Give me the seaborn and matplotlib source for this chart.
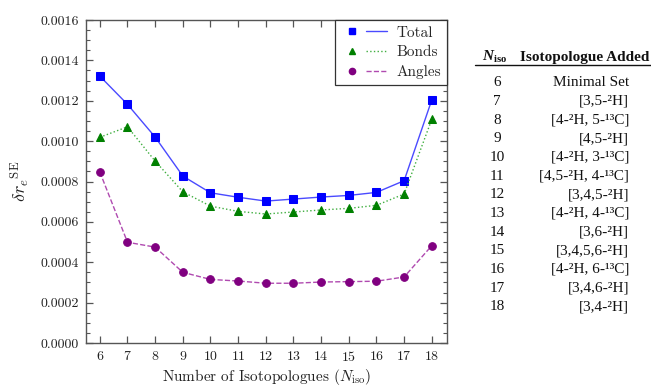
import numpy as np
import pandas as pd
import matplotlib
matplotlib.use("Agg")
import matplotlib.pyplot as plt
from matplotlib.lines import Line2D
from matplotlib.legend_handler import HandlerTuple
from matplotlib.ticker import MultipleLocator, FormatStrFormatter
import seaborn as sns

# data
n_iso = [6, 7, 8, 9, 10, 11, 12, 13, 14, 15, 16, 17, 18]
total = [0.001322, 0.001182, 0.001020, 0.000827, 0.000744, 0.000722, 0.000703,
         0.000713, 0.000723, 0.000731, 0.000746, 0.000804, 0.001204]
bonds = [0.001019, 0.001071, 0.000901, 0.000749, 0.000678, 0.000652, 0.000639,
         0.000649, 0.000659, 0.000667, 0.000682, 0.000738, 0.001108]
angles = [0.000847, 0.000499, 0.000475, 0.000350, 0.000315, 0.000307, 0.000296,
          0.000296, 0.000302, 0.000304, 0.000306, 0.000327, 0.000482]

# table on the right
table_n = [str(n) for n in n_iso]
table_added = ["Minimal Set", "[3,5-²H]", "[4-²H, 5-¹³C]", "[4,5-²H]",
               "[4-²H, 3-¹³C]", "[4,5-²H, 4-¹³C]", "[3,4,5-²H]", "[4-²H, 4-¹³C]",
               "[3,6-²H]", "[3,4,5,6-²H]", "[4-²H, 6-¹³C]", "[3,4,6-²H]", "[3,4-²H]"]

sns.set_style("ticks")
plt.rcParams['font.family'] = ['cmr10', 'DejaVu Serif']
plt.rcParams['mathtext.fontset'] = 'cm'
plt.rcParams['axes.formatter.use_mathtext'] = True
plt.rcParams['mathtext.rm'] = 'Liberation Serif:bold'
plt.rcParams['mathtext.it'] = 'Liberation Serif:italic:bold'

W, H = 651, 387
fig = plt.figure(figsize=(W / 100, H / 100), dpi=100)
ax = fig.add_axes([86 / W, 1 - 343 / H, (447 - 86) / W, (343 - 20) / H])

df = pd.DataFrame({'n': n_iso, 'Total': total, 'Bonds': bonds, 'Angles': angles})

series = [
    ('Total', '#0000ff', '#4a4aff', 's', '-', 5.5),
    ('Bonds', '#008000', '#3fae3f', '^', ':', 5.5),
    ('Angles', '#800080', '#b04ab0', 'o', '--', 5.5),
]
handles = []
for name, mc, lc, mk, ls, ms in series:
    sns.lineplot(data=df, x='n', y=name, ax=ax, color=lc, linestyle=ls,
                 linewidth=1.0, marker=mk, markersize=ms, markerfacecolor=mc,
                 markeredgecolor=mc)
    h_marker = Line2D([], [], linestyle='none', marker=mk, markersize=ms - 1,
                      color=mc)
    h_line = Line2D([], [], linestyle=ls, linewidth=1.0, color=lc)
    handles.append((h_marker, h_line))

ax.set_xlim(5.5, 18.55)
ax.set_ylim(0, 0.0016)
ax.set_xticks(n_iso)
ax.yaxis.set_major_locator(MultipleLocator(0.0002))
ax.yaxis.set_minor_locator(MultipleLocator(0.00005))
ax.yaxis.set_major_formatter(FormatStrFormatter('%.4f'))
ax.tick_params(axis='both', which='both', direction='in', top=True, right=True,
               color='#555555', labelcolor='#222222', labelsize=10)
ax.tick_params(axis='both', which='major', length=5, width=0.9, pad=5)
ax.tick_params(axis='y', which='minor', length=3, width=0.8)
for sp in ax.spines.values():
    sp.set_color('#555555')
    sp.set_linewidth(1.0)

ax.set_xlabel(r'Number of Isotopologues ($N_{\rm iso}$)', fontsize=11,
              color='#222222', labelpad=2)
ax.set_ylabel(r'${\delta r_e}^{\rm SE}$', fontsize=13, color='#222222', labelpad=6)

leg = ax.legend(handles, ['Total', 'Bonds', 'Angles'],
                handler_map={tuple: HandlerTuple(ndivide=None, pad=0.3)},
                loc='upper right', borderaxespad=0, fancybox=False,
                framealpha=1, edgecolor='#333333', fontsize=11,
                handlelength=3.0, handletextpad=0.6, labelspacing=0.38,
                borderpad=0.4)
leg.get_frame().set_linewidth(0.9)

# table
tfont = 'Liberation Serif'
fig.text(495 / W, 1 - 61 / H, r'$N_{\mathrm{iso}}$', ha='center', va='baseline',
         fontsize=11, family=tfont, math_fontfamily='custom', color='#111111')
fig.text(649 / W, 1 - 61 / H, 'Isotopologue Added', ha='right', va='baseline',
         fontsize=11, family=tfont, fontweight='bold', color='#111111')
fig.add_artist(Line2D([475 / W, 651 / W], [1 - 65 / H, 1 - 65 / H],
                      color='#111111', linewidth=1.0))
row0, step = 82.7, 18.67
for i, (n, added) in enumerate(zip(table_n, table_added)):
    y = 1 - (row0 + i * step) / H
    fig.text(497 / W, y, n, ha='center', va='center', fontsize=11,
             family=tfont, color='#111111')
    fig.text(629 / W, y, added, ha='right', va='center', fontsize=11,
             family=tfont, color='#111111')

fig.savefig('out.png', dpi=100)
